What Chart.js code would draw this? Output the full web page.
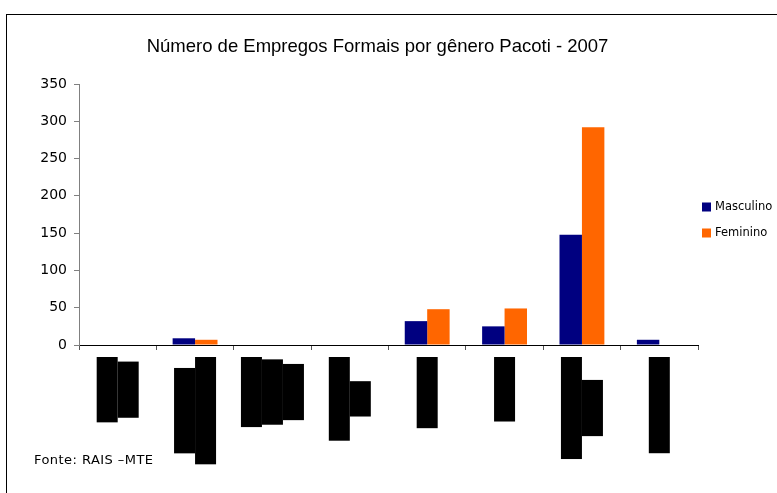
<!DOCTYPE html>
<html>
<head>
<meta charset="utf-8">
<script src="https://cdn.jsdelivr.net/npm/chart.js@4.4.0/dist/chart.umd.min.js"></script>
<style>
  body { margin: 0; background: #fff; }
  #wrap { position: relative; width: 777px; height: 493px; overflow: hidden; }
  #frame { position: absolute; left: 6px; top: 14px; width: 900px; height: 600px;
           border-top: 1px solid #000; border-left: 1px solid #000; }
  canvas { position: absolute; left: 0; top: 0; }
</style>
</head>
<body>
<div id="wrap">
  <div id="frame"></div>
  <canvas id="chart" width="777" height="493"></canvas>
</div>
<script>
// sectors (IBGE / RAIS), one entry per line of the wrapped label
const sectors = [
  ["Extrativa", "mineral"],
  ["Indústria de", "Transformação"],
  ["Serv. Ind.", "Utilidade", "Pública"],
  ["Construção", "Civil"],
  ["Comércio"],
  ["Serviços"],
  ["Administração", "Pública"],
  ["Agropecuária"]
];
const masculino = [0, 9, 0, 0, 32, 25, 148, 7];
const feminino = [0, 7, 0, 0, 48, 49, 292, 0];
const yTicks = [0, 50, 100, 150, 200, 250, 300, 350];
const titleText = "Número de Empregos Formais por gênero Pacoti - 2007";

// rotated sector names, drawn as the black blocks seen in the original
const sectorLabels = {
  id: "sectorLabels",
  afterDraw(chart) {
    const ctx = chart.ctx;
    const xs = chart.scales.x;
    const top = 357;
    const step = 21;
    ctx.save();
    ctx.font = "15px 'Liberation Sans', Arial, sans-serif";
    ctx.textAlign = "center";
    ctx.textBaseline = "middle";
    chart.data.labels.forEach((lines, i) => {
      const cx = xs.getPixelForValue(i);
      const widths = lines.map(l => ctx.measureText(l).width + 7);
      const maxW = Math.max(...widths);
      ctx.save();
      ctx.translate(cx, top + maxW / 2);
      ctx.rotate(-Math.PI / 2);
      lines.forEach((line, j) => {
        const off = (j - (lines.length - 1) / 2) * step;
        ctx.fillStyle = "#000";
        ctx.fillRect(-widths[j] / 2, off - step / 2, widths[j], step);
        ctx.fillText(line, 0, off);
      });
      ctx.restore();
    });
    ctx.restore();
  }
};

// title, legend on the right and the source note
const notes = {
  id: "notes",
  afterDraw(chart) {
    const ctx = chart.ctx;
    ctx.save();
    ctx.fillStyle = "#000";
    ctx.textBaseline = "middle";
    ctx.textAlign = "center";
    ctx.font = "18.5px 'Liberation Sans', Arial, sans-serif";
    ctx.fillText(titleText, 377.5, 47);
    ctx.textAlign = "left";
    ctx.font = "11.5px 'DejaVu Sans', sans-serif";
    chart.data.datasets.forEach((ds, i) => {
      const y = 207 + i * 26;
      ctx.fillStyle = ds.backgroundColor;
      ctx.fillRect(702, y - 4.5, 9, 9);
      ctx.fillStyle = "#000";
      ctx.fillText(ds.label, 715, y);
    });
    ctx.font = "13px 'DejaVu Sans', sans-serif";
    ctx.letterSpacing = "0.45px";
    ctx.fillText("Fonte: RAIS –MTE", 34, 461);
    ctx.restore();
  }
};

new Chart(document.getElementById("chart"), {
  type: "bar",
  data: {
    labels: sectors,
    datasets: [
      { label: "Masculino", data: masculino, backgroundColor: "#000080" },
      { label: "Feminino", data: feminino, backgroundColor: "#FF6600" }
    ]
  },
  options: {
    responsive: false,
    animation: false,
    devicePixelRatio: 1,
    categoryPercentage: 0.58,
    barPercentage: 1,
    layout: { padding: { left: 6, right: 79, top: 84, bottom: 0 } },
    plugins: {
      legend: { display: false },
      tooltip: { enabled: false },
      title: { display: false }
    },
    scales: {
      x: {
        afterFit: s => { s.height = 148; },
        ticks: { display: false },
        grid: { offset: true, drawOnChartArea: false, tickLength: 5, color: "#555" },
        border: { color: "#000" }
      },
      y: {
        min: 0,
        max: 350,
        afterFit: s => { s.width = 73; },
        afterBuildTicks: s => { s.ticks = yTicks.map(v => ({ value: v })); },
        ticks: {
          color: "#000",
          padding: 7,
          font: { family: "'DejaVu Sans', sans-serif", size: 14 }
        },
        grid: { drawOnChartArea: false, tickLength: 5, color: "#808080" },
        border: { color: "#808080" }
      }
    }
  },
  plugins: [sectorLabels, notes]
});
</script>
</body>
</html>
